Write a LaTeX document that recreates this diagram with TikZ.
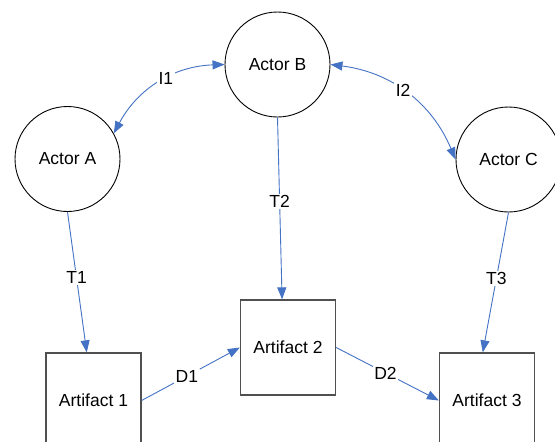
\documentclass[tikz,border=0pt]{standalone}
\usepackage{fontspec}
\setmainfont{Liberation Sans}
\usetikzlibrary{arrows.meta}
\definecolor{lnblue}{RGB}{68,114,196}
\definecolor{boxgray}{RGB}{80,80,80}
\tikzset{
  actor/.style={circle, draw=black, line width=0.9pt, minimum size=105pt, inner sep=0pt, font=\fontsize{17.5}{20}\selectfont},
  artifact/.style={rectangle, draw=boxgray, line width=1.3pt, minimum width=95pt, minimum height=95pt, inner sep=0pt, font=\fontsize{17.5}{20}\selectfont},
  conn/.style={draw=lnblue, line width=0.9pt, -{Triangle[length=12pt,width=9pt]}},
  biconn/.style={draw=lnblue, line width=0.9pt, {Triangle[length=12pt,width=9pt]}-{Triangle[length=12pt,width=9pt]}},
  lbl/.style={fill=white, inner sep=1.5pt, font=\fontsize{17.5}{20}\selectfont}
}
\begin{document}
\begin{tikzpicture}[x=1pt,y=-1pt]
\useasboundingbox (0,0) rectangle (555,442);
\clip (0,0) rectangle (555,442);
\fill[white] (0,0) rectangle (555,442);
\node[actor] (A) at (67.5,159) {Actor A};
\node[actor] (B) at (277.5,64.5) {Actor B};
\node[actor] (C) at (508.5,159.5) {Actor C};
\node[artifact] (a1) at (93.5,400.5) {Artifact 1};
\node[artifact] (a2) at (288,347.5) {Artifact 2};
\node[artifact] (a3) at (487,400.5) {Artifact 3};
\draw[biconn] (A.29) to[bend left=30] node[lbl, pos=0.56] {I1} (B.west);
\draw[biconn] (B.east) to[bend left=30] node[lbl, pos=0.47] {I2} (C.west);
\draw[conn] (A.south) -- node[lbl, pos=0.47] {T1} (a1.98);
\draw[conn] (B.south) -- node[lbl, pos=0.46] {T2} (a2.97);
\draw[conn] (C.south) -- node[lbl, pos=0.47] {T3} (a3.95);
\draw[conn] (a1.east) -- node[lbl, pos=0.46] {D1} (a2.west);
\draw[conn] (a2.east) -- node[lbl, pos=0.48] {D2} (a3.west);
\end{tikzpicture}
\end{document}
